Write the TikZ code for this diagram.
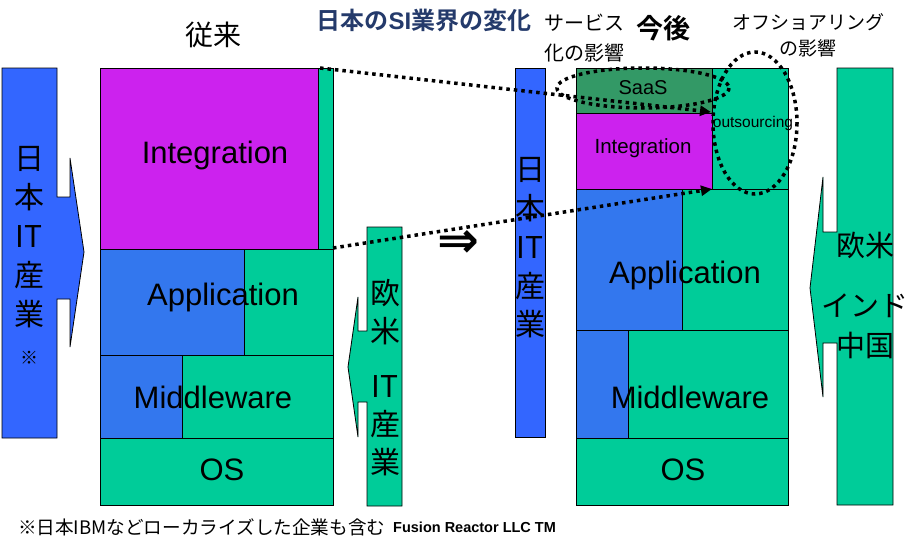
\documentclass[tikz,border=0pt]{standalone}
\usepackage{fontspec}
\setmainfont{Liberation Sans}
\newfontfamily\jp{Noto Sans CJK JP}[BoldFont={Noto Sans CJK JP Bold}]
\newfontfamily\dejavu{DejaVu Sans}
\usetikzlibrary{arrows.meta}
\definecolor{jblue}{HTML}{3366FF}
\definecolor{sblue}{HTML}{3377EE}
\definecolor{sgreen}{HTML}{00CC99}
\definecolor{smag}{HTML}{CC22EE}
\definecolor{saas}{HTML}{339966}
\definecolor{navy}{HTML}{243A6B}
\tikzset{
  blk/.style={draw=black, line width=0.8pt},
  lbl/.style={inner sep=0pt, font=\fontsize{31}{31}\selectfont},
  jcol/.style={inner sep=0pt, align=center, font=\jp\fontsize{30}{39}\selectfont},
  dots/.style={line width=3.5pt, dash pattern=on 3.5pt off 4pt},
}
\begin{document}
\begin{tikzpicture}[x=1pt,y=-1pt]
\useasboundingbox (0,0) rectangle (916,546);
% titles
\node (old) at (213,35) {\jp\fontsize{28}{28}\selectfont 従来};
\node (title) at (424,20) {\color{navy}\jp\bfseries\fontsize{24}{24}\selectfont 日本の{\rmfamily SI}業界の変化};
\node[align=center, font=\jp\fontsize{20}{30}\selectfont] (svc) at (584,38) {サービス\\化の影響};
\node (new) at (663,28) {\jp\bfseries\fontsize{27}{27}\selectfont 今後};
\node[align=center, font=\jp\fontsize{19}{26}\selectfont] (off) at (808,35) {オフショアリング\\の影響};
% japan IT arrow
\draw[blk, fill=jblue] (2,68) -- (57,68) -- (57,197) -- (70,197) -- (70,158) -- (84,252)
  -- (70,347) -- (70,299) -- (57,299) -- (57,438) -- (2,438) -- cycle;
\node[jcol] (jpL) at (29,255) {日\\本\\IT\\産\\業\\{\fontsize{18}{18}\selectfont ※}};
% old stack
\draw[blk, fill=smag] (100,68) rectangle (318,249);
\draw[blk, fill=sgreen] (318,68) rectangle (333,249);
\draw[blk, fill=sblue] (100,249) rectangle (244,355);
\draw[blk, fill=sgreen] (244,249) rectangle (333,355);
\draw[blk, fill=sblue] (100,355) rectangle (182,438);
\draw[blk, fill=sgreen] (182,355) rectangle (333,438);
\draw[blk, fill=sgreen] (100,438) rectangle (333,505);
\node[lbl] (intL) at (215,155) {Integration};
\node[lbl] (appL) at (223,297) {Application};
\node[lbl] (mwL) at (213,397) {Middleware};
\node[lbl] (osL) at (222,470) {OS};
% western IT arrow
\draw[blk, fill=sgreen] (402,227) -- (367,227) -- (367,331) -- (358,331) -- (358,297) -- (348,367)
  -- (358,437) -- (358,402) -- (367,402) -- (367,506) -- (402,506) -- cycle;
\node[jcol, font=\jp\fontsize{30}{38}\selectfont] (euL) at (385,378) {欧\\米\\[17pt]IT\\産\\業};
\node (imp) at (458,244) {\dejavu\bfseries\fontsize{50}{50}\selectfont ⇒};
% japan IT now
\draw[blk, fill=jblue] (515,68) rectangle (545,437);
\node[jcol, font=\jp\fontsize{30}{38.75}\selectfont] (jpR) at (530,248) {日\\本\\IT\\産\\業};
% new stack
\draw[blk, fill=saas] (576,68) rectangle (712,113);
\draw[blk, fill=sgreen] (712,68) rectangle (788,189);
\draw[blk, fill=smag] (576,113) rectangle (712,189);
\draw[blk, fill=sblue] (576,189) rectangle (682,330);
\draw[blk, fill=sgreen] (682,189) rectangle (788,330);
\draw[blk, fill=sblue] (576,330) rectangle (628,438);
\draw[blk, fill=sgreen] (628,330) rectangle (788,438);
\draw[blk, fill=sgreen] (576,438) rectangle (788,505);
\node[lbl, font=\fontsize{20}{20}\selectfont] (saasR) at (643,88) {SaaS};
\node[lbl, font=\fontsize{20.5}{20.5}\selectfont] (intR) at (643,148) {Integration};
\node[lbl, font=\fontsize{15.5}{15.5}\selectfont] (outR) at (753,123) {outsourcing};
\node[lbl] (appR) at (685,275) {Application};
\node[lbl] (mwR) at (690,397) {Middleware};
\node[lbl] (osR) at (683,470) {OS};
% offshore arrow
\draw[blk, fill=sgreen] (893,68) -- (837,68) -- (837,232) -- (823,232) -- (823,177) -- (810,288)
  -- (823,397) -- (823,343) -- (837,343) -- (837,505) -- (893,505) -- cycle;
\node[jcol, font=\jp\fontsize{29}{40}\selectfont] (ofL) at (865,295) {欧米\\[20pt]インド\\中国};
% shifts
\coordinate (oldTop) at (320,68);
\coordinate (newTop) at (711,112);
\coordinate (oldBot) at (333,248);
\coordinate (newBot) at (712,189);
\draw[dots, -{Triangle[length=11pt,width=10pt]}] (oldTop) -- (newTop);
\draw[dots, -{Triangle[length=11pt,width=10pt]}] (oldBot) -- (newBot);
\draw[dots] (643,88) ellipse [x radius=86, y radius=20];
\draw[dots] (755,123) ellipse [x radius=42, y radius=71];
% footer
\node[anchor=west, inner sep=0pt] (note) at (18,527) {\jp\fontsize{18.6}{18.6}\selectfont ※日本IBMなどローカライズした企業も含む};
\node[anchor=west, inner sep=0pt] (credit) at (393,527) {\bfseries\fontsize{14.5}{14.5}\selectfont Fusion Reactor LLC TM};
\end{tikzpicture}
\end{document}
